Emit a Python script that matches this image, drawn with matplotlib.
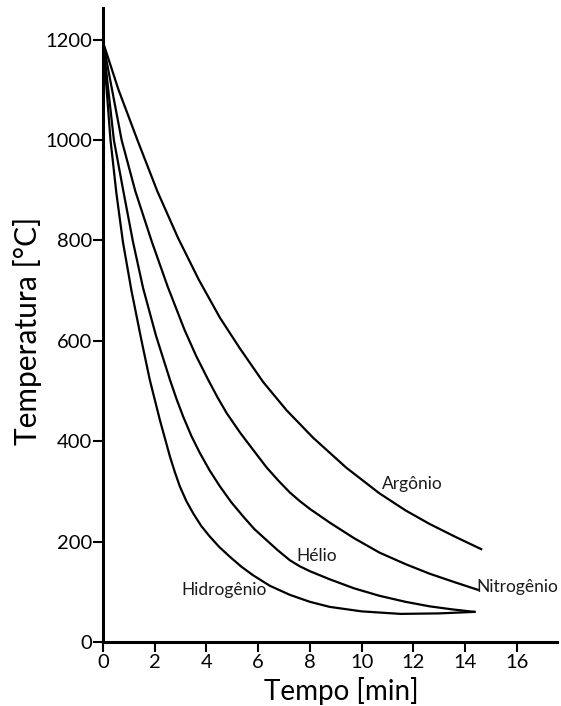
import matplotlib
matplotlib.use("Agg")
from matplotlib import pyplot as plt

plt.rcParams['font.family'] = ['Lato', 'DejaVu Sans']

# curves (tempo [min], temperatura [C])
hidrogenio_t = [0, 0.29, 0.52, 0.77, 1.1, 1.49, 1.81, 2.2, 2.59, 2.78, 2.97, 3.22,
                3.49, 3.8, 4.13, 4.5, 4.9, 5.35, 5.8, 6.45, 7.22, 8.0, 8.76, 10.0,
                11.5, 13.0, 14.36]
hidrogenio_T = [1195, 1000, 893, 797, 700, 600, 522, 442, 369, 338, 310, 281,
                256, 231, 210, 189, 170, 150, 133, 112, 94, 80, 70, 61,
                56, 57, 60]

helio_t = [0, 0.42, 0.78, 1.16, 1.55, 2.05, 2.59, 2.85, 3.10, 3.42, 3.75, 4.12,
           4.52, 4.95, 5.42, 5.85, 6.32, 6.75, 7.22, 7.6, 8.0, 8.76, 9.7, 10.69,
           11.7, 12.63, 13.5, 14.36]
helio_T = [1195, 1000, 900, 797, 705, 610, 522, 483, 449, 410, 376, 342,
           310, 279, 250, 225, 203, 183, 163, 151, 141, 125, 107, 92,
           80, 71, 65, 60]

nitrogenio_t = [0, 0.72, 1.25, 1.89, 2.5, 3.15, 3.6, 4.07, 4.42, 4.78, 5.3, 5.8,
                6.32, 6.77, 7.22, 7.6, 8.0, 8.76, 9.7, 10.69, 11.7, 12.63, 13.6,
                14.49]
nitrogenio_T = [1195, 1000, 898, 797, 708, 622, 570, 522, 488, 456, 417, 383,
                348, 322, 298, 281, 265, 238, 207, 178, 155, 136, 119,
                104]

argonio_t = [0, 0.6, 1.33, 2.1, 2.9, 3.7, 4.52, 5.29, 6.19, 7.09, 8.12, 9.41,
             10.69, 11.7, 12.63, 13.6, 14.62]
argonio_T = [1195, 1100, 1000, 898, 805, 722, 646, 585, 518, 462, 407, 347,
             296, 262, 235, 210, 185]

rotulos = ["Hidrogênio", "Hélio", "Nitrogênio", "Argônio"]
rotulo_pos = [(4.69, 104), (8.25, 172), (14.45, 110), (11.97, 315)]

fig = plt.figure(figsize=(5.61, 7.06), dpi=100)
ax = fig.add_axes([103 / 561, 64 / 706, 454 / 561, 634 / 706])

for t, T in [(hidrogenio_t, hidrogenio_T), (helio_t, helio_T),
             (nitrogenio_t, nitrogenio_T), (argonio_t, argonio_T)]:
    ax.plot(t, T, color='black', linewidth=1.6, solid_joinstyle='round')

for nome, (x, y) in zip(rotulos, rotulo_pos):
    ha = 'left' if nome == "Nitrogênio" else 'center'
    ax.text(x, y, nome, fontsize=12.5, ha=ha, va='center', color='#1a1a1a')

ax.set_xlim(0, 17.55)
ax.set_ylim(0, 1263)
ax.set_xticks(range(0, 17, 2))
ax.set_yticks(range(0, 1201, 200))

for s in ['top', 'right']:
    ax.spines[s].set_visible(False)
for s in ['left', 'bottom']:
    ax.spines[s].set_linewidth(2.2)

ax.tick_params(axis='both', direction='out', length=7, width=1.5,
               labelsize=14.5, colors='black')
ax.tick_params(axis='y', pad=1)
ax.tick_params(axis='x', pad=2)

ax.set_xlabel("Tempo [min]", fontsize=20)
ax.set_ylabel("Temperatura [°C]", fontsize=21.5)
ax.xaxis.set_label_coords(0.524, -0.055)
ax.yaxis.set_label_coords(-0.135, 0.49)

fig.savefig("out.png", dpi=100)
